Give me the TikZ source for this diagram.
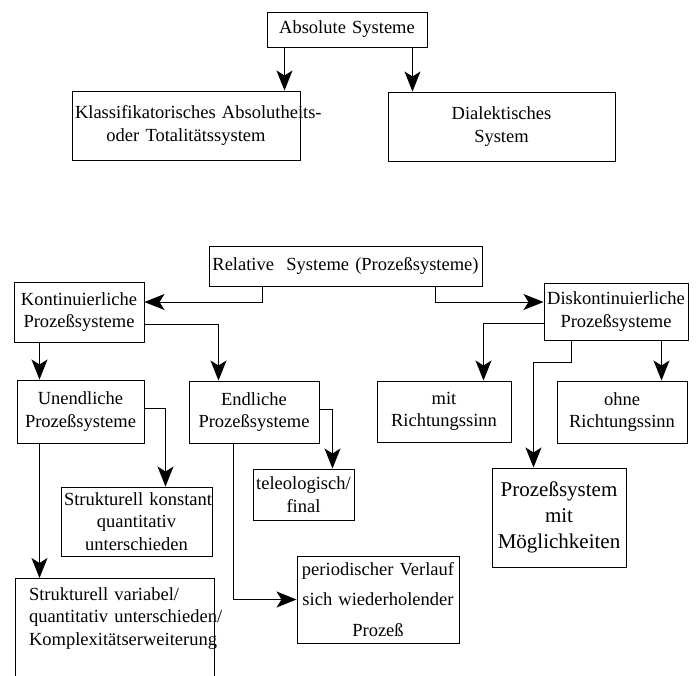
\documentclass[tikz,border=0pt]{standalone}
\usepackage{fontspec}
\setmainfont{Liberation Serif}
\usetikzlibrary{arrows.meta}

\begin{document}
\begin{tikzpicture}[x=1pt, y=-1pt,
    box/.style={draw, line width=1pt, align=center, inner xsep=3pt, inner ysep=2pt,
        font=\fontsize{18.5}{22.5}\selectfont},
    arr/.style={line width=1pt, -{Stealth[length=20pt, width=16pt, inset=5pt]}}]
    \clip (0,0) rectangle (698,675);
    \node[box, text width=154pt, minimum height=35pt] (abs) at (347,29.5) {Absolute Systeme};
    \node[box, text width=222pt, minimum height=69pt] (klass) at (186,125.5)
        {\mbox{Klassifikatorisches Absolutheits-}\\oder Totalitätssystem};
    \node[box, text width=221pt, minimum height=69pt] (dial) at (501.5,126.5) {Dialektisches\\System};
    \node[box, text width=267pt, minimum height=40pt] (rel) at (345.5,266)
        {\mbox{Relative\ \ Systeme (Prozeßsysteme)}};
    \node[box, text width=124pt, minimum height=60pt] (kont) at (79,312) {Kontinuierliche\\Prozeßsysteme};
    \node[box, text width=138pt, minimum height=57pt] (disk) at (616,311.5) {Diskontinuierliche\\Prozeßsysteme};
    \node[box, text width=121pt, minimum height=63pt] (unend) at (80.5,411.5) {Unendliche\\Prozeßsysteme};
    \node[box, text width=124pt, minimum height=62pt] (endl) at (254,412) {Endliche\\Prozeßsysteme};
    \node[box, text width=128pt, minimum height=61pt] (mit) at (444,411.5) {mit\\Richtungssinn};
    \node[box, text width=124pt, minimum height=62pt] (ohne) at (622,412) {ohne\\Richtungssinn};
    \node[box, text width=145pt, minimum height=69pt] (konst) at (136.5,521.5)
        {\mbox{Strukturell konstant}\\quantitativ\\unterschieden};
    \node[box, text width=95pt, minimum height=51pt] (teleo) at (303.5,494.5) {teleologisch/\\final};
    \node[box, text width=128pt, minimum height=99pt, font=\fontsize{21}{26}\selectfont] (moegl) at (559,517.5)
        {Prozeßsystem\\mit\\Möglichkeiten};
    \node[box, text width=156pt, minimum height=87pt, font=\fontsize{18.5}{30.5}\selectfont] (period) at (378,599.5)
        {\mbox{periodischer Verlauf}\\\mbox{sich wiederholender}\\Prozeß};
    \node[box, anchor=north, align=left, text width=171pt, inner xsep=14pt, inner ysep=9pt,
        text depth=80pt] (strvar) at (114.5,578)
        {\mbox{Strukturell variabel/}\\\mbox{quantitativ unterschieden/}\\\mbox{Komplexitätserweiterung}};

    \draw[arr] ([xshift=18pt]abs.south west) -- ([xshift=18pt]abs.south west |- klass.north);
    \draw[arr] ([xshift=-15pt]abs.south east) -- ([xshift=-15pt]abs.south east |- dial.north);
    \draw[arr] ([xshift=54pt]rel.south west) |- ([yshift=10pt]kont.east);
    \draw[arr] ([xshift=-47pt]rel.south east) |- ([yshift=9.5pt]disk.west);
    \draw[arr] ([yshift=-12pt]kont.east) -| ([xshift=30pt]endl.north west);
    \draw[arr] ([xshift=26pt]kont.south west) -- ([xshift=26pt]kont.south west |- unend.north);
    \draw[arr] ([yshift=3.5pt]unend.east) -| ([xshift=105pt]konst.north west);
    \draw[arr] ([xshift=23pt]unend.south west) -- ([xshift=23pt]unend.south west |- strvar.north);
    \draw[arr] ([yshift=3pt]endl.east) -| ([xshift=80pt]teleo.north west);
    \draw[arr] ([xshift=45pt]endl.south west) |- (period.west);
    \draw[arr] ([yshift=-11.5pt]disk.west) -| ([xshift=-28pt]mit.north east);
    \draw[arr] ([xshift=-27pt]disk.south east) -- ([xshift=-27pt]disk.south east |- ohne.north);
    \draw[arr] ([xshift=28pt]disk.south west) -- ++(0,22) -| ([xshift=42pt]moegl.north west);
\end{tikzpicture}
\end{document}
